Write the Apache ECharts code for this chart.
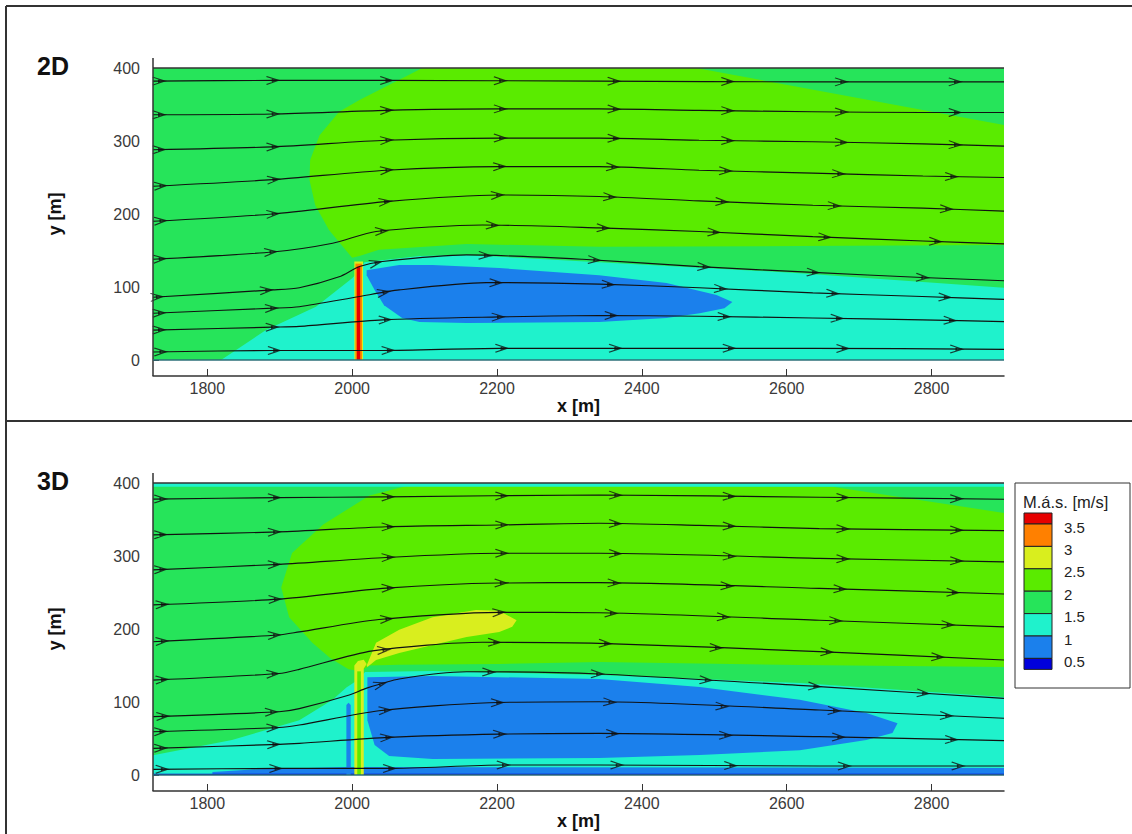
<!DOCTYPE html>
<html><head><meta charset="utf-8">
<script src="https://cdn.jsdelivr.net/npm/echarts@6/dist/echarts.min.js"></script>
<style>html,body{margin:0;padding:0;background:#fff}#c{width:1132px;height:834px}</style>
</head><body><div id="c"></div>
<script>
// ---------------- data ----------------
const xMin = 1725, xMax = 2900, yMin = 0, yMax = 400;
const xMajorTicks = [1800, 2000, 2200, 2400, 2600, 2800];
const xMinorStep = 50;
const legendTitle = 'M.á.s. [m/s]';
const legendLabels = ['3.5', '3', '2.5', '2', '1.5', '1', '0.5'];
const levelColors = ['#e60000', '#ff8000', '#d9ee1e', '#5aeb00', '#26e45a', '#1ff2cc', '#1b80ec', '#0000dc'];
const C = {red:0, orange:1, yellow:2, ygreen:3, green:4, cyan:5, blue:6, dblue:7};

// 2D panel contour regions (data coordinates)
const full = [[1725,0],[2900,0],[2900,400],[1725,400]];
const yg2D = [[2097,400],[2475,400],[2900,322],[2900,157.5],[2618,156],[2341,155],[2158,159],[2037,151],[2010,142.5],[2000,140],[1968,178],[1949,212],[1941,247],[1942,274],[1955,308],[1982,340],[2010,356]];
const cyan2D = [[1819,0],[1881,41],[1950,73],[2000,112],[2006,118],[2017,134],[2093,142.5],[2158,144],[2341,134],[2618,119],[2900,99],[2900,0]];
const blue2D = [[2020,123],[2065,130],[2111,130],[2203,126],[2341,116],[2434,105.5],[2503,89],[2525,79.5],[2514,71],[2480,64],[2434,57.5],[2341,52],[2158,50.7],[2093,52],[2069,57.5],[2044,75],[2031,96],[2020,116]];
const tower2D_y = [[2003,0],[2003,135],[2015,135],[2015,0]];
const tower2D_o = [[2004.5,0],[2004.5,132],[2013.5,132],[2013.5,0]];
const tower2D_r = [[2006.5,0],[2006.5,128],[2011,128],[2011,0]];

// 3D panel contour regions
const yg3D = [[2079,397],[2663,395],[2900,359],[2900,148],[2618,150.7],[2341,154.8],[2203,152],[2065,151],[2024,150],[2012,142],[1995,145],[1970,160],[1945,181],[1913,216],[1902,257],[1917,304],[1960,343],[2024,383]];
const yellow3D = [[2020,150],[2033,181],[2065,199],[2111,216],[2171,226],[2203,225],[2227,212],[2221,203],[2203,196],[2158,189],[2111,178],[2065,167],[2033,157.5],[2021,148]];
const cyan3D = [[1725,27],[1834,48],[1927,75],[1973,103],[1992,120],[2003,127],[2018,141],[2111,142.5],[2341,137],[2618,126],[2900,107],[2900,0],[1725,0]];
const blue3D = [[2021,134],[2111,135.6],[2341,131.5],[2480,120.5],[2618,103],[2710,85],[2753,71],[2746,57.5],[2710,48],[2618,34],[2480,27.4],[2341,23.3],[2111,22],[2051,26],[2031,41],[2021,75]];
const bottomBlue3D = [[1807,0],[1807,4],[1872,8],[1993,11],[2900,9.6],[2900,0]];
const bottomDark3D = [[1725,0],[2900,0],[2900,1.8],[1725,1.8]];
const thinBlue3D = [[1992,0],[1992,96],[1995,99],[1998,96],[1998,0]];
const tower3D_y = [[2003,0],[2003,150],[2008,156],[2016,158],[2020,152],[2016,146],[2016,0]];
const tower3D_c = [[2007,0],[2007,142],[2012,142],[2012,0]];
const topCyan3D = [[1725,395],[2900,395],[2900,400],[1725,400]];

// streamlines 2D
const s2D = [
  [[1725,382],[1890,383],[2047,383],[2341,382],[2636,381],[2900,381]],
  [[1725,336],[1890,337],[2047,342],[2203,344],[2341,344],[2479,342],[2636,340],[2788,339],[2900,339]],
  [[1725,288],[1890,292],[2047,301],[2203,304],[2341,304],[2479,301],[2636,299],[2788,296],[2900,293]],
  [[1725,238],[1890,247],[2047,260],[2203,265],[2341,265],[2479,260],[2636,256],[2788,252],[2900,250]],
  [[1725,190],[1890,200],[2047,217],[2203,226],[2341,224],[2479,218],[2636,212],[2788,208],[2900,204]],
  [[1725,138],[1890,148],[1973,160],[2033,176],[2180,185],[2341,181],[2479,176],[2636,169],[2788,163],[2900,159]],
  [[1725,86],[1890,96],[1927,99],[1982,114],[2010,128],[2042,135],[2158,144],[2318,138],[2479,128],[2636,120],[2787,113],[2900,108.6]],
  [[1725,64],[1890,71],[1927,73],[2010,87],[2065,96],[2185,106],[2341,104],[2479,99],[2636,92],[2787,87],[2900,83]],
  [[1725,41],[1890,45],[1927,46],[2042,55],[2203,59],[2341,61],[2479,60],[2636,57.5],[2787,55],[2900,52.5]],
  [[1725,11],[1890,13],[2042,13],[2203,16],[2341,16],[2636,16],[2900,14.6]]
];
// streamlines 3D
const s3D = [
  [[1725,378],[1899,380],[2047,381],[2341,383.5],[2645,380.5],[2900,377.7]],
  [[1725,329],[1899,333],[2047,340],[2203,342.5],[2341,344.8],[2479,342],[2645,337.6],[2900,334.7]],
  [[1725,281],[1899,288.6],[2047,298],[2203,303.7],[2341,303.7],[2645,296.8],[2900,292]],
  [[1725,233],[1899,241],[2047,256],[2203,263],[2341,263.5],[2645,255.7],[2900,248]],
  [[1725,182.6],[1899,191.8],[1927,196],[2037,213],[2203,222.8],[2341,222.3],[2645,212],[2900,203]],
  [[1725,130],[1899,139],[1927,144.7],[2028,170],[2180,181.8],[2341,180.4],[2645,169],[2900,157.5]],
  [[1725,80],[1899,86.7],[1927,91],[1996,109.6],[2020,119],[2065,131.5],[2158,141.5],[2341,138.4],[2645,121],[2900,105]],
  [[1725,59.3],[1899,65],[1927,68.5],[2037,88],[2189,99],[2341,100.4],[2645,89],[2900,77.7]],
  [[1725,36.5],[1899,42],[1927,43.4],[2051,51.6],[2203,56],[2341,57],[2645,52.5],[2900,47]],
  [[1725,7.8],[1899,9],[2051,9],[2207,13.7],[2341,13.7],[2645,12.3],[2900,12.3]]
];
// arrow placement along each streamline: [first x, spacing]
const arrows2D = [[1733,157],[1733,157],[1733,157],[1735,156],[1735,155],[1734,153],[1730,151],[1733,155],[1733,156],[1735,157]];
const arrows3D = [[1735,157],[1735,157],[1735,157],[1737,156],[1737,155],[1737,153],[1738,150],[1735,155],[1735,156],[1737,157]];

// ---------------- build ----------------
const FONT = 'Liberation Sans, Arial, sans-serif';
const GRID_W = 851, GRID_H = 292;
const pxX = GRID_W / (xMax - xMin), pxY = GRID_H / (yMax - yMin);

function polySeries(gi, polys) {
  return {
    type: 'custom', xAxisIndex: gi * 2, yAxisIndex: gi, silent: true, clip: true, z: 1,
    data: polys.map(p => p.pts[0]),
    renderItem: (params, api) => {
      const p = polys[params.dataIndex];
      return { type: 'polygon', shape: { points: p.pts.map(d => api.coord(d)) },
               style: { fill: levelColors[p.c], stroke: null } };
    }
  };
}
function frameSeries(gi) {
  return {
    type: 'custom', xAxisIndex: gi * 2, yAxisIndex: gi, silent: true, clip: false, z: 5,
    data: [[xMin, yMax]],
    renderItem: (params, api) => {
      const tl = api.coord([xMin, yMax]), tr = api.coord([xMax, yMax]);
      const bl = api.coord([xMin, yMin]), br = api.coord([xMax, yMin]);
      return { type: 'group', children: [
        { type: 'line', shape: { x1: tl[0], y1: tl[1] - 10, x2: bl[0], y2: bl[1] + 16 }, style: { stroke: '#333', lineWidth: 1.5 } },
        { type: 'line', shape: { x1: tl[0], y1: tl[1], x2: tr[0], y2: tr[1] }, style: { stroke: '#333', lineWidth: 1.5 } },
        { type: 'line', shape: { x1: bl[0], y1: bl[1], x2: br[0], y2: br[1] }, style: { stroke: '#2c6f78', lineWidth: 1.5 } }
      ] };
    }
  };
}
function interp(pts, x) {
  for (let i = 0; i < pts.length - 1; i++) {
    const a = pts[i], b = pts[i + 1];
    if (x >= a[0] && x <= b[0]) {
      const t = (x - a[0]) / (b[0] - a[0]);
      return [a[1] + t * (b[1] - a[1]), (b[1] - a[1]) / (b[0] - a[0])];
    }
  }
  return null;
}
function streamSeries(gi, lines, arrows) {
  const out = [];
  const arrowData = [];
  lines.forEach((pts, i) => {
    out.push({ type: 'line', xAxisIndex: gi * 2, yAxisIndex: gi, data: pts, showSymbol: false, symbol: 'none',
      smooth: 0.25, silent: true, z: 3, lineStyle: { color: '#111', width: 1.15 } });
    const [x0, step] = arrows[i];
    for (let x = x0; x <= 2880; x += step) {
      const r = interp(pts, x);
      if (r) arrowData.push([x, r[0], Math.atan2(r[1] * pxY, pxX) * 180 / Math.PI]);
    }
  });
  out.push({ type: 'scatter', xAxisIndex: gi * 2, yAxisIndex: gi, data: arrowData, silent: true, z: 4,
    symbol: 'path://M0,0L12,5L0,10M6,3.2L12,5L6,6.8Z', symbolSize: [12, 8],
    symbolRotate: v => v[2],
    itemStyle: { color: 'rgba(0,0,0,0)', borderColor: '#111', borderWidth: 1.3 } });
  return out;
}

const minorTicks = [];
for (let v = Math.ceil(xMin / xMinorStep) * xMinorStep; v < xMax; v += xMinorStep) {
  if (xMajorTicks.indexOf(v) < 0) minorTicks.push(v);
}
const plain = v => String(v);

function xAxes(gi, nameGap) {
  return [
    { type: 'value', gridIndex: gi, position: 'bottom', min: xMin, max: xMax, offset: 16,
      axisLine: { show: true, onZero: false, lineStyle: { color: '#333', width: 1.5 } },
      axisTick: { show: true, inside: true, length: 7, customValues: xMajorTicks, lineStyle: { color: '#333' } },
      axisLabel: { customValues: xMajorTicks, formatter: plain, fontFamily: FONT, fontSize: 16, color: '#3a3a3a', margin: 4 },
      splitLine: { show: false },
      name: 'x [m]', nameLocation: 'middle', nameGap: nameGap,
      nameTextStyle: { fontFamily: FONT, fontSize: 18, fontWeight: 'bold', color: '#111' } },
    { type: 'value', gridIndex: gi, position: 'bottom', min: xMin, max: xMax, offset: 16,
      axisLine: { show: false }, axisLabel: { show: false }, splitLine: { show: false },
      axisTick: { show: true, inside: true, length: 3.5, customValues: minorTicks, lineStyle: { color: '#333' } } }
  ];
}
function yAxis(gi) {
  return { type: 'value', gridIndex: gi, position: 'left', min: yMin, max: yMax, interval: 100,
    axisLine: { show: false },
    axisTick: { show: true, inside: true, length: 6, lineStyle: { color: '#333' } },
    minorTick: { show: true, splitNumber: 5, length: 3, lineStyle: { color: '#333' } },
    splitLine: { show: false }, minorSplitLine: { show: false },
    axisLabel: { formatter: plain, fontFamily: FONT, fontSize: 16, color: '#3a3a3a', margin: 13 },
    name: 'y [m]', nameLocation: 'middle', nameRotate: 90, nameGap: 89,
    nameTextStyle: { fontFamily: FONT, fontSize: 18, fontWeight: 'bold', color: '#111' } };
}

const regions2D = [
  { pts: full, c: C.green }, { pts: yg2D, c: C.ygreen }, { pts: cyan2D, c: C.cyan }, { pts: blue2D, c: C.blue },
  { pts: tower2D_y, c: C.yellow }, { pts: tower2D_o, c: C.orange }, { pts: tower2D_r, c: C.red }
];
const regions3D = [
  { pts: full, c: C.green }, { pts: yg3D, c: C.ygreen }, { pts: yellow3D, c: C.yellow }, { pts: cyan3D, c: C.cyan },
  { pts: blue3D, c: C.blue }, { pts: bottomBlue3D, c: C.blue }, { pts: bottomDark3D, c: C.dblue },
  { pts: thinBlue3D, c: C.blue }, { pts: tower3D_y, c: C.yellow }, { pts: tower3D_c, c: C.ygreen },
  { pts: topCyan3D, c: C.cyan }
];

// legend graphics
const legendEls = [];
legendEls.push({ type: 'rect', shape: { x: 1015, y: 483, width: 115, height: 205 }, style: { fill: '#fff', stroke: '#333', lineWidth: 1 } });
legendEls.push({ type: 'text', style: { x: 1023, y: 502, text: legendTitle, font: '16.5px ' + FONT, fill: '#222', textVerticalAlign: 'middle' } });
let sy = 513;
levelColors.forEach((col, i) => {
  const h = (i === 0 || i === levelColors.length - 1) ? 11 : 22.4;
  legendEls.push({ type: 'rect', shape: { x: 1024, y: sy, width: 28, height: h }, style: { fill: col, stroke: '#222', lineWidth: 1 } });
  sy += h;
  if (i < legendLabels.length) {
    legendEls.push({ type: 'text', style: { x: 1064, y: sy + 3, text: legendLabels[i], font: '15px ' + FONT, fill: '#222', textVerticalAlign: 'middle' } });
  }
});

const option = {
  animation: false,
  backgroundColor: '#fff',
  grid: [
    { left: 153, top: 68, width: GRID_W, height: GRID_H },
    { left: 153, top: 483, width: GRID_W, height: GRID_H }
  ],
  xAxis: [...xAxes(0, 20), ...xAxes(1, 12)],
  yAxis: [yAxis(0), yAxis(1)],
  series: [
    polySeries(0, regions2D), polySeries(1, regions3D),
    ...streamSeries(0, s2D, arrows2D), ...streamSeries(1, s3D, arrows3D),
    frameSeries(0), frameSeries(1)
  ],
  graphic: [
    { type: 'line', shape: { x1: 6, y1: 6, x2: 1132, y2: 6 }, style: { stroke: '#333', lineWidth: 2 } },
    { type: 'line', shape: { x1: 6, y1: 6, x2: 6, y2: 834 }, style: { stroke: '#333', lineWidth: 2 } },
    { type: 'line', shape: { x1: 6, y1: 421, x2: 1132, y2: 421 }, style: { stroke: '#333', lineWidth: 2 } },
    { type: 'text', style: { x: 37, y: 66, text: '2D', font: 'bold 25px ' + FONT, fill: '#111', textVerticalAlign: 'middle' } },
    { type: 'text', style: { x: 37, y: 481, text: '3D', font: 'bold 25px ' + FONT, fill: '#111', textVerticalAlign: 'middle' } },
    ...legendEls
  ]
};
const chart = echarts.init(document.getElementById('c'), null, { renderer: 'svg', width: 1132, height: 834 });
chart.setOption(option);
</script>
</body></html>
